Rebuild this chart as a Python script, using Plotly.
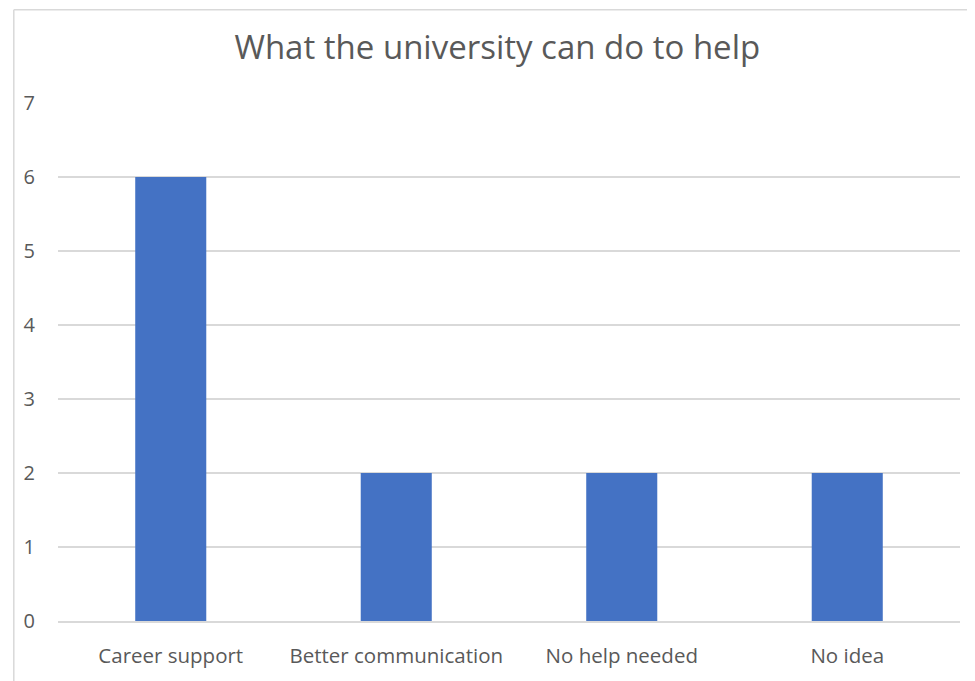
import plotly.graph_objects as go

categories = ["Career support", "Better communication", "No help needed", "No idea"]
values = [6, 2, 2, 2]
y_ticks = [0, 1, 2, 3, 4, 5, 6, 7]

TEXT = "#595959"
FONT = "'Open Sans', sans-serif"

fig = go.Figure(
    go.Bar(x=categories, y=values, marker=dict(color="#4472c4", line=dict(width=0)))
)

# page has an 8px body margin; figure is 967x673 placed at (8, 8)
fig.update_layout(
    width=967,
    height=673,
    paper_bgcolor="white",
    plot_bgcolor="white",
    margin=dict(l=50, r=15, t=95, b=56),
    bargap=0.685,
    font=dict(family=FONT, color=TEXT, size=20),
    title=dict(
        text="What the university can do to help",
        x=0.506,
        xanchor="center",
        y=0.942,
        yanchor="middle",
        font=dict(family=FONT, size=33, color=TEXT),
    ),
    showlegend=False,
    shapes=[
        dict(type="line", xref="paper", yref="paper", x0=-0.049, x1=-0.049, y0=-0.2, y1=1.18,
             line=dict(color="#d9d9d9", width=1.5)),
        dict(type="line", xref="paper", yref="paper", x0=-0.049, x1=1.1, y0=1.18, y1=1.18,
             line=dict(color="#d9d9d9", width=1.5)),
    ],
)

fig.update_xaxes(
    showgrid=False,
    showline=True,
    linecolor="#d9d9d9",
    linewidth=1.5,
    ticks="",
    ticklabelstandoff=16,
    tickfont=dict(family=FONT, size=20.5, color=TEXT),
)
fig.update_yaxes(
    range=[0, 7],
    tickvals=y_ticks,
    showgrid=True,
    gridcolor="#d9d9d9",
    gridwidth=1.5,
    zeroline=False,
    showline=False,
    ticks="",
    ticklabelstandoff=22,
    tickfont=dict(family=FONT, size=20, color=TEXT),
)

fig.write_html("out.html")
